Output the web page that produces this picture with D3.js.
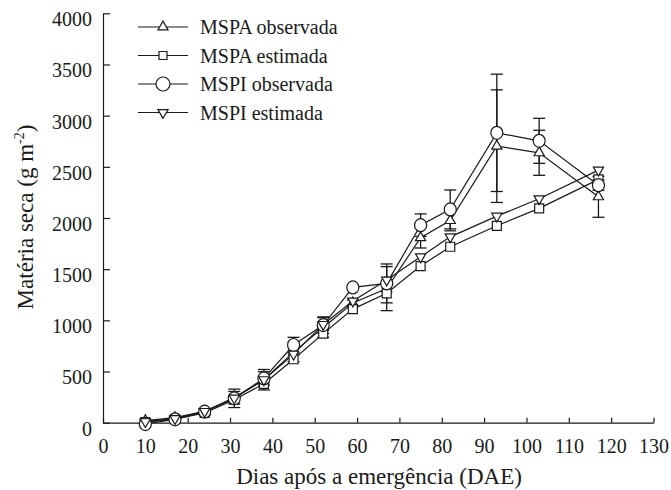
<!DOCTYPE html>
<html><head><meta charset="utf-8">
<script src="https://cdn.jsdelivr.net/npm/d3@7"></script>
</head><body style="margin:0">
<svg id="c" width="671" height="490"></svg>
<script>
// ---- data ----
const dae      = [10, 17, 24, 31, 38, 45, 52, 59, 67, 75, 82, 93, 103, 117];
const mspaObs  = [20, 50, 110, 245, 420, 690, 930, 1170, 1310, 1807, 1975, 2702, 2637, 2207];
const mspaObsErr = [10, 10, 30, 60, 100, 95, 96, 30, 215, 100, 100, 550, 220, 200];
const mspaEst  = [5, 35, 95, 225, 380, 620, 870, 1110, 1264, 1530, 1719, 1924, 2094, 2377];
const mspiObs  = [-13, 33, 108, 238, 433, 759, 954, 1322, 1361, 1930, 2084, 2832, 2754, 2321];
const mspiObsErr = [10, 15, 30, 90, 65, 75, 80, 10, 190, 110, 190, 573, 220, 50];
const mspiEst  = [10, 40, 110, 240, 420, 670, 960, 1189, 1394, 1621, 1816, 2018, 2188, 2468];
const xTicks = [0,10,20,30,40,50,60,70,80,90,100,110,120,130];
const yTicks = [0,500,1000,1500,2000,2500,3000,3500,4000];
const seriesNames = ["MSPA observada","MSPA estimada","MSPI observada","MSPI estimada"];
const xTitle = "Dias após a emergência (DAE)";
const yTitle = "Matéria seca (g m";

const ink = "#1a1a1a";
const FONT = "'Times New Roman', 'Liberation Serif', monospace";
function serif(sel){ return sel.style("font-family",FONT); }
const svg = d3.select("#c");
const x = d3.scaleLinear().domain([0,130]).range([103,653.5]);
const y = d3.scaleLinear().domain([0,4000]).range([422.7,13.3]);

// axes
const gx = svg.append("g").attr("transform",`translate(0,${y(0)})`)
  .call(d3.axisBottom(x).tickValues(xTicks).tickFormat(d3.format("d")).tickSize(-5).tickPadding(16).tickSizeOuter(0));
const gy = svg.append("g").attr("transform",`translate(${x(0)},0)`)
  .call(d3.axisLeft(y).tickValues(yTicks).tickFormat(d3.format("d")).tickSize(-7).tickPadding(11).tickSizeOuter(0));
[gx,gy].forEach(g=>{
  g.attr("font-family",null);
  g.selectAll("path.domain").attr("stroke",ink).attr("stroke-width",1.2);
  g.selectAll(".tick line").attr("stroke",ink).attr("stroke-width",1.2);
  serif(g.selectAll(".tick text")).attr("font-size",20).attr("fill",ink);
});
gy.selectAll(".tick text").attr("dy","0.62em");

// titles
serif(svg.append("text")).attr("x",379).attr("y",484).attr("text-anchor","middle").attr("fill",ink)
  .attr("font-size",23).text(xTitle);
const yt = serif(svg.append("text")).attr("transform","translate(33,217) rotate(-90)")
  .attr("text-anchor","middle").attr("fill",ink).attr("font-size",23);
yt.append("tspan").text(yTitle);
yt.append("tspan").attr("font-size",14).attr("dy","-9").text("-2");
yt.append("tspan").attr("dy","9").text(")");

const series = [
  {vals: mspaObs, err: mspaObsErr, sym: "tri"},
  {vals: mspaEst, err: null, sym: "sq"},
  {vals: mspiObs, err: mspiObsErr, sym: "circ"},
  {vals: mspiEst, err: null, sym: "itri"}
];

function drawMarker(g, sym, cx, cy, big){
  if(sym==="circ"){
    g.append("ellipse").attr("cx",cx).attr("cy",cy).attr("rx",big?7:6).attr("ry",big?7:6.5)
      .attr("fill","#fff").attr("stroke",ink).attr("stroke-width",1.2);
  } else if(sym==="sq"){
    g.append("path").attr("d",d3.symbol(d3.symbolSquare, big?64:81)())
      .attr("transform",`translate(${cx},${cy})`)
      .attr("fill","#fff").attr("stroke",ink).attr("stroke-width",1.2);
  } else {
    g.append("path").attr("d",d3.symbol(d3.symbolTriangle, 45)())
      .attr("transform",`translate(${cx},${cy})${sym==="itri"?" rotate(180)":""}`)
      .attr("fill","#fff").attr("stroke",ink).attr("stroke-width",1.2);
  }
}

const line = d3.line().x(d=>x(d[0])).y(d=>y(d[1]));
const gl = svg.append("g");
series.forEach(s=>{
  gl.append("path").attr("d",line(dae.map((d,i)=>[d,s.vals[i]])))
    .attr("fill","none").attr("stroke",ink).attr("stroke-width",1.2);
});
// error bars
const ge = svg.append("g");
series.filter(s=>s.err).forEach(s=>{
  dae.forEach((d,i)=>{
    const cx = x(d), y1 = y(s.vals[i]+s.err[i]), y2 = y(s.vals[i]-s.err[i]);
    ge.append("line").attr("x1",cx).attr("x2",cx).attr("y1",y1).attr("y2",y2)
      .attr("stroke",ink).attr("stroke-width",1.3);
    [y1,y2].forEach(yy=>ge.append("line").attr("x1",cx-6).attr("x2",cx+6).attr("y1",yy).attr("y2",yy)
      .attr("stroke",ink).attr("stroke-width",1.3));
  });
});
// markers
const gm = svg.append("g");
series.forEach(s=>{
  dae.forEach((d,i)=>drawMarker(gm, s.sym, x(d), y(s.vals[i]), false));
});

// legend
const lg = svg.append("g");
const rowY = [27, 55.5, 84, 112.5];
series.forEach((s,i)=>{
  lg.append("line").attr("x1",138).attr("x2",188).attr("y1",rowY[i]).attr("y2",rowY[i])
    .attr("stroke",ink).attr("stroke-width",1.2);
  drawMarker(lg, s.sym, 163, rowY[i], true);
  serif(lg.append("text")).attr("x",200).attr("y",rowY[i]+7).attr("fill",ink)
    .attr("font-size",20).text(seriesNames[i]);
});
</script>
</body></html>
